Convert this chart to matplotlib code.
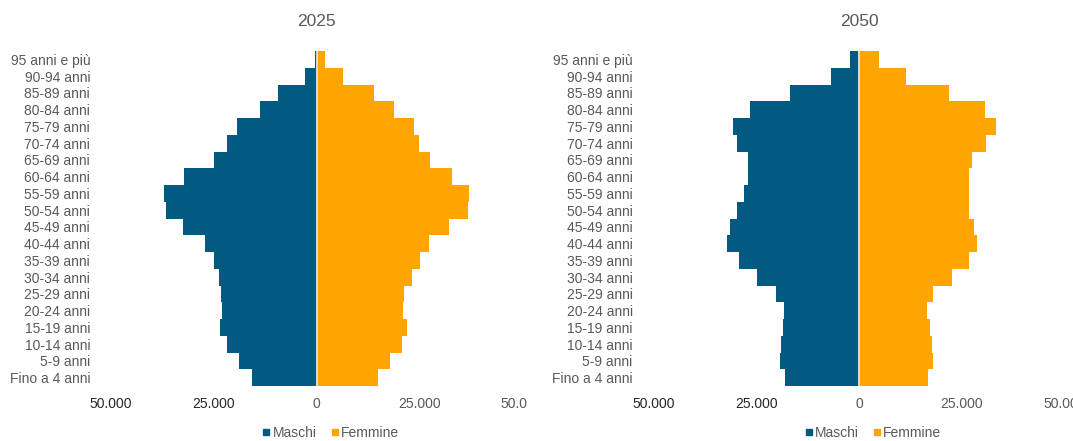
import matplotlib
matplotlib.use("Agg")
import matplotlib.pyplot as plt
from matplotlib.lines import Line2D
from matplotlib.transforms import Bbox, TransformedBbox

plt.rcParams['font.family'] = ['Liberation Sans', 'DejaVu Sans']

# age classes, from the youngest (bottom) to the oldest (top)
classi = ["Fino a 4 anni", "5-9 anni", "10-14 anni", "15-19 anni", "20-24 anni",
          "25-29 anni", "30-34 anni", "35-39 anni", "40-44 anni", "45-49 anni",
          "50-54 anni", "55-59 anni", "60-64 anni", "65-69 anni", "70-74 anni",
          "75-79 anni", "80-84 anni", "85-89 anni", "90-94 anni", "95 anni e più"]

maschi_2025 = [15700, 18800, 21800, 23400, 23100, 23300, 23800, 25000, 27100, 32600,
               36600, 37000, 32200, 25000, 21800, 19300, 13700, 9400, 2900, 400]
femmine_2025 = [15000, 17800, 20800, 21900, 21100, 21300, 23300, 25200, 27400, 32200,
                36900, 37200, 33000, 27700, 25000, 23700, 18900, 14100, 6500, 2100]

maschi_2050 = [18000, 19100, 19000, 18400, 18200, 20100, 24900, 29300, 32100, 31500,
               29700, 28000, 26900, 27100, 29800, 30700, 26500, 16700, 6800, 2100]
femmine_2050 = [16900, 18100, 17800, 17200, 16500, 18100, 22700, 26800, 28700, 27900,
                26800, 26800, 26800, 27500, 31000, 33400, 30600, 22000, 11400, 4800]

anni = ["2025", "2050"]
xticks = [-50000, -25000, 0, 25000, 50000]
xticklabels = ["50.000", "25.000", "0", "25.000", "50.000"]

BLU = "#005A82"
ARANCIO = "#FFA500"
GRIGIO = "#595959"

W, H = 1073, 441
fig = plt.figure(figsize=(W / 100, H / 100), dpi=100)

# pixel geometry of the two plot areas (left edge, zero line)
lefts = [111, 653.5]
ax_w = 411
ax_top, ax_bot = 51, 386

dati = [(maschi_2025, femmine_2025), (maschi_2050, femmine_2050)]
y = list(range(len(classi)))

for i, (m, f) in enumerate(dati):
    ax = fig.add_axes([lefts[i] / W, (H - ax_bot) / H, ax_w / W, (ax_bot - ax_top) / H])
    ax.barh(y, [-v for v in m], height=1.0, color=BLU, edgecolor='none')
    ax.barh(y, f, height=1.0, color=ARANCIO, edgecolor='none')
    ax.axvline(0, color='#E3E3E3', lw=1.3)
    ax.set_xlim(-50000, 50000)
    ax.set_ylim(-0.5, len(classi) - 0.5)
    for s in ax.spines.values():
        s.set_visible(False)

    ax.set_yticks(y)
    ax.set_yticklabels(classi)
    ax.tick_params(axis='y', length=0, pad=15, labelsize=10, labelcolor=GRIGIO)
    ax.set_xticks(xticks)
    ax.set_xticklabels(xticklabels)
    ax.tick_params(axis='x', length=0, pad=8, labelsize=10)
    for j, t in enumerate(ax.xaxis.get_major_ticks()):
        t.label1.set_color('#262626' if xticks[j] < 0 else GRIGIO)
    if i == 0:
        # last label gets cut by the next chart, as in the source
        last = ax.xaxis.get_major_ticks()[-1].label1
        last.set_clip_on(True)
        last.set_clip_box(TransformedBbox(Bbox.from_extents(0, 0, 527 / W, 1), fig.transFigure))

    zero_x = lefts[i] + ax_w / 2
    fig.text(zero_x / W, 1 - 21 / H, anni[i], ha='center', va='center',
             fontsize=12.5, color=GRIGIO)

    handles = [Line2D([], [], marker='s', ls='', color=BLU, markersize=5),
               Line2D([], [], marker='s', ls='', color=ARANCIO, markersize=5)]
    fig.legend(handles, ["Maschi", "Femmine"], loc='center',
               bbox_to_anchor=((zero_x + 14) / W, 1 - 433 / H), ncol=2, frameon=False,
               fontsize=10, labelcolor=GRIGIO, handlelength=0.6, handletextpad=0.15,
               columnspacing=1.0, borderpad=0.1)

fig.savefig("out.png", dpi=100)
